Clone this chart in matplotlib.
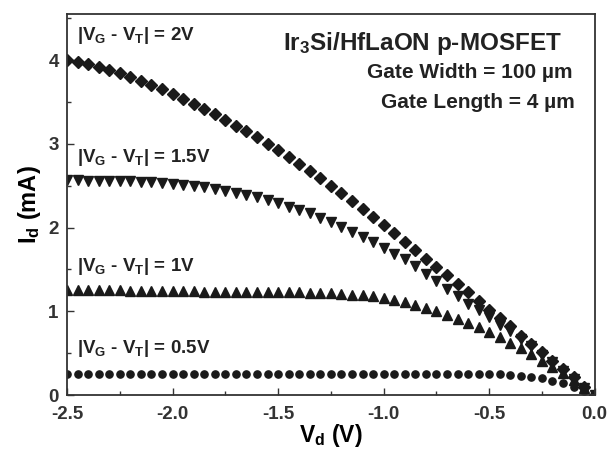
import numpy as np
import matplotlib

matplotlib.use("Agg")
import matplotlib.pyplot as plt
from matplotlib.ticker import MultipleLocator, FormatStrFormatter

# drain voltage sweep (V), 0.05 V step
vd = [-2.50, -2.45, -2.40, -2.35, -2.30, -2.25, -2.20, -2.15, -2.10, -2.05,
      -2.00, -1.95, -1.90, -1.85, -1.80, -1.75, -1.70, -1.65, -1.60, -1.55,
      -1.50, -1.45, -1.40, -1.35, -1.30, -1.25, -1.20, -1.15, -1.10, -1.05,
      -1.00, -0.95, -0.90, -0.85, -0.80, -0.75, -0.70, -0.65, -0.60, -0.55,
      -0.50, -0.45, -0.40, -0.35, -0.30, -0.25, -0.20, -0.15, -0.10, -0.05,
      0.00]

# drain current (mA) for each |VG - VT|
id_05 = [0.25, 0.25, 0.25, 0.25, 0.25, 0.25, 0.25, 0.25, 0.25, 0.25,
         0.25, 0.25, 0.25, 0.25, 0.25, 0.25, 0.25, 0.25, 0.25, 0.25,
         0.25, 0.25, 0.25, 0.25, 0.25, 0.25, 0.25, 0.25, 0.25, 0.25,
         0.25, 0.25, 0.25, 0.25, 0.25, 0.25, 0.25, 0.25, 0.25, 0.25,
         0.25, 0.25, 0.24, 0.23, 0.22, 0.20, 0.17, 0.14, 0.10, 0.05,
         0.00]
id_10 = [1.25, 1.25, 1.25, 1.25, 1.25, 1.25, 1.24, 1.24, 1.24, 1.24,
         1.24, 1.24, 1.24, 1.23, 1.23, 1.23, 1.23, 1.23, 1.23, 1.23,
         1.23, 1.23, 1.23, 1.22, 1.22, 1.22, 1.21, 1.20, 1.19, 1.18,
         1.16, 1.14, 1.11, 1.08, 1.04, 1.00, 0.96, 0.91, 0.86, 0.81,
         0.75, 0.69, 0.62, 0.56, 0.49, 0.41, 0.34, 0.26, 0.18, 0.09,
         0.00]
id_15 = [2.57, 2.57, 2.56, 2.56, 2.56, 2.55, 2.55, 2.54, 2.54, 2.53,
         2.52, 2.51, 2.50, 2.48, 2.46, 2.44, 2.41, 2.39, 2.36, 2.33,
         2.29, 2.25, 2.21, 2.17, 2.12, 2.07, 2.01, 1.95, 1.89, 1.83,
         1.76, 1.69, 1.62, 1.54, 1.45, 1.36, 1.27, 1.18, 1.09, 1.01,
         0.93, 0.84, 0.76, 0.67, 0.58, 0.48, 0.39, 0.29, 0.19, 0.09,
         0.00]
id_20 = [4.00, 3.98, 3.95, 3.92, 3.88, 3.84, 3.80, 3.75, 3.70, 3.65,
         3.59, 3.53, 3.47, 3.41, 3.35, 3.28, 3.21, 3.15, 3.08, 3.00,
         2.93, 2.84, 2.76, 2.68, 2.59, 2.50, 2.41, 2.32, 2.22, 2.13,
         2.03, 1.93, 1.83, 1.73, 1.63, 1.53, 1.43, 1.33, 1.23, 1.12,
         1.01, 0.92, 0.82, 0.71, 0.61, 0.51, 0.41, 0.31, 0.21, 0.10,
         0.00]

curve_labels = ["0.5V", "1V", "1.5V", "2V"]
label_y = [0.50, 1.48, 2.78, 4.24]

plt.rcParams.update(
    {
        "font.family": "Liberation Sans",
        "font.weight": "bold",
        "mathtext.fontset": "custom",
        "mathtext.rm": "Liberation Sans:bold",
        "mathtext.it": "Liberation Sans:bold",
        "mathtext.bf": "Liberation Sans:bold",
        "text.color": "#222222",
        "axes.edgecolor": "#333333",
        "xtick.color": "#333333",
        "ytick.color": "#333333",
    }
)

INK = "#1a1a1a"

fig = plt.figure(figsize=(6.15, 4.51), dpi=100)
ax = fig.add_axes([0.109, 0.124, 0.858, 0.845])

ax.plot(vd, id_05, ls="none", marker="o", ms=5.2, color=INK)
ax.plot(vd, id_10, ls="none", marker="^", ms=6.8, color=INK)
ax.plot(vd, id_15, ls="none", marker="v", ms=6.8, color=INK)
ax.plot(vd, id_20, ls="none", marker="D", ms=6.2, color=INK)

ax.set_xlim(-2.5, 0.0)
ax.set_ylim(0, 4.55)
ax.xaxis.set_major_locator(MultipleLocator(0.5))
ax.xaxis.set_minor_locator(MultipleLocator(0.25))
ax.yaxis.set_major_locator(MultipleLocator(1))
ax.yaxis.set_minor_locator(MultipleLocator(0.5))
ax.xaxis.set_major_formatter(FormatStrFormatter("%.1f"))
ax.tick_params(which="both", direction="in", top=False, right=False,
               labelsize=13.5, width=1.0)
ax.tick_params(which="major", length=5)
ax.tick_params(which="minor", length=3)
ax.tick_params(axis="x", pad=8)
ax.tick_params(axis="y", pad=6)
for lab in ax.get_xticklabels() + ax.get_yticklabels():
    lab.set_fontweight("bold")
for sp in ax.spines.values():
    sp.set_linewidth(1.3)

ax.set_xlabel("V$_d$ (V)", fontsize=16.5, fontweight="bold", labelpad=-1)
ax.set_ylabel("I$_d$ (mA)", fontsize=17, fontweight="bold", labelpad=4)

for lab, y in zip(curve_labels, label_y):
    ax.text(-2.455, y, "|V$_G$ - V$_T$| = " + lab, fontsize=13.5,
            fontweight="bold", ha="left", va="baseline")

ax.text(0.9375, 0.906, "Ir$_3$Si/HfLaON p-MOSFET", transform=ax.transAxes,
        fontsize=17.5, fontweight="bold", ha="right", va="baseline")
ax.text(0.958, 0.832, "Gate Width = 100 µm", transform=ax.transAxes,
        fontsize=15, fontweight="bold", ha="right", va="baseline")
ax.text(0.962, 0.753, "Gate Length = 4 µm", transform=ax.transAxes,
        fontsize=15, fontweight="bold", ha="right", va="baseline")

fig.savefig("out.png", dpi=100)
